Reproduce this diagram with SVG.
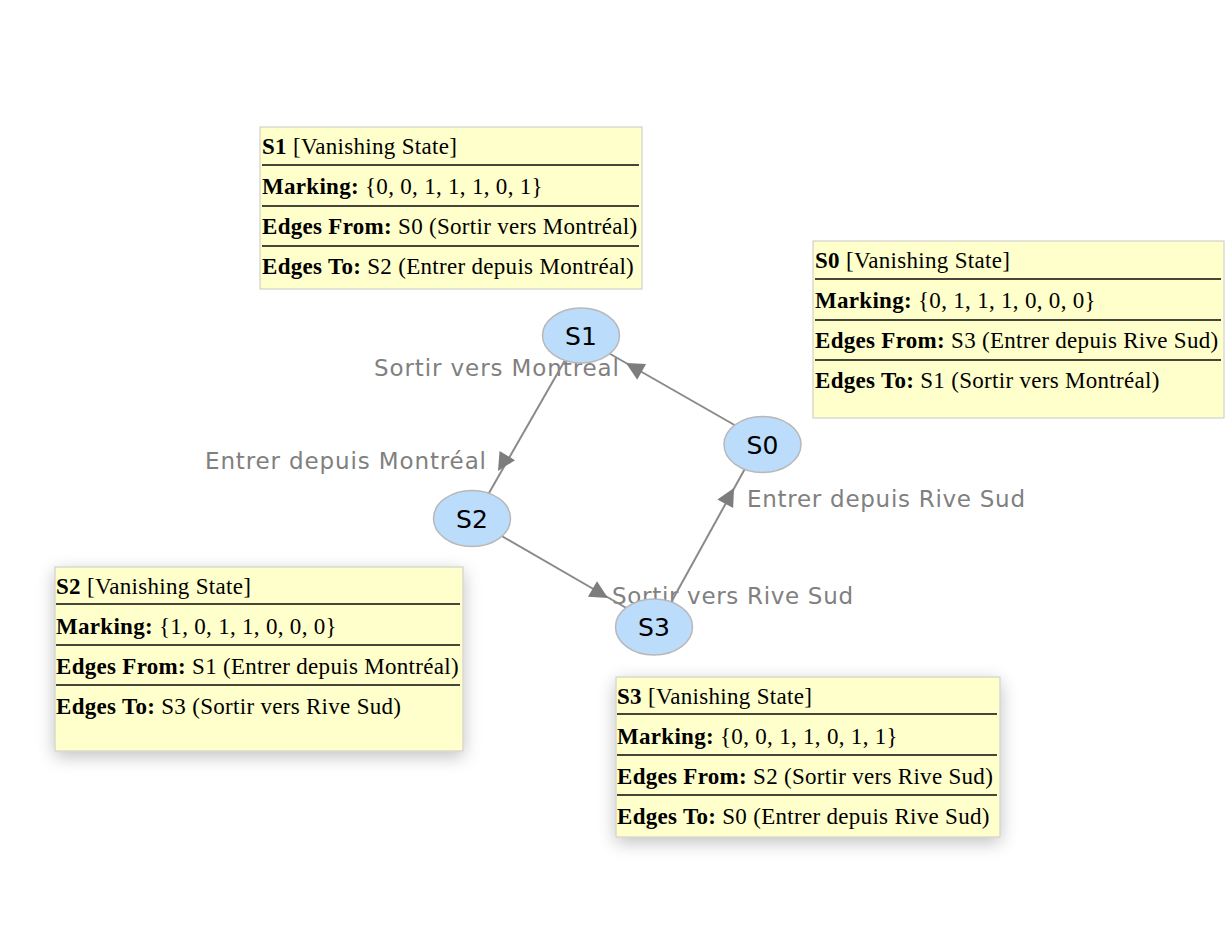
<svg xmlns="http://www.w3.org/2000/svg" xmlns:xlink="http://www.w3.org/1999/xlink" width="1226" height="950" viewBox="0 0 1226 950">
<style>
.edge{stroke:#8a8a8a;stroke-width:2;fill:none}
.ah{fill:#7d7d7d}
.elabel{font-family:"DejaVu Sans","Noto Sans",sans-serif;font-size:23px;fill:#808080}
.node{fill:#bcdcfb;stroke:#b8b8b8;stroke-width:1.5}
.nlabel{font-family:"DejaVu Sans","Noto Sans",sans-serif;font-size:25px;fill:#000;text-anchor:middle}
.tip{fill:#ffffcc;stroke:#c8c8c8;stroke-width:1}
.sep{stroke:#454538;stroke-width:2}
.tt{font-family:"Liberation Serif","Times New Roman",serif;font-size:23px;letter-spacing:0.3px;fill:#000}
.b{font-weight:bold}
</style>
<defs>
<path id="ah" d="M0,0 L-18,-9 L-18,9 Z"/>
<filter id="sh" x="-15%" y="-20%" width="130%" height="145%">
<feGaussianBlur in="SourceAlpha" stdDeviation="9"/>
<feOffset dx="0" dy="5" result="b"/>
<feComponentTransfer><feFuncA type="linear" slope="0.25"/></feComponentTransfer>
<feMerge><feMergeNode/><feMergeNode in="SourceGraphic"/></feMerge>
</filter>
</defs>
<rect width="1226" height="950" fill="#fff"/>

<g id="edge-labels">
<text class="elabel" x="374" y="376" textLength="245" lengthAdjust="spacing">Sortir vers Montréal</text>
<text class="elabel" x="205" y="469" textLength="281" lengthAdjust="spacing">Entrer depuis Montréal</text>
<text class="elabel" x="747" y="507" textLength="278" lengthAdjust="spacing">Entrer depuis Rive Sud</text>
<text class="elabel" x="612" y="604" textLength="241" lengthAdjust="spacing">Sortir vers Rive Sud</text>
</g>

<g id="connectors">
<line class="edge" x1="738" y1="427" x2="605" y2="351"/>
<use href="#ah" class="ah" transform="translate(626,363) rotate(209.6)"/>
<line class="edge" x1="568" y1="355" x2="485" y2="500"/>
<use href="#ah" class="ah" transform="translate(498,471) rotate(121)"/>
<line class="edge" x1="500" y1="535" x2="628" y2="609"/>
<use href="#ah" class="ah" transform="translate(608,598) rotate(30.3)"/>
<line class="edge" x1="668" y1="608" x2="747" y2="465"/>
<use href="#ah" class="ah" transform="translate(734,488) rotate(-61)"/>
</g>

<g id="S1">
<ellipse class="node" cx="581" cy="335.5" rx="38.5" ry="27.5"/>
<text class="nlabel" x="581" y="344.5">S1</text>
</g>
<g id="S0">
<ellipse class="node" cx="762.5" cy="444.5" rx="38.5" ry="28"/>
<text class="nlabel" x="762.5" y="453.5">S0</text>
</g>
<g id="S2">
<ellipse class="node" cx="472" cy="518.5" rx="38.5" ry="28"/>
<text class="nlabel" x="472" y="527.5">S2</text>
</g>
<g id="S3">
<ellipse class="node" cx="654" cy="627" rx="38.5" ry="28"/>
<text class="nlabel" x="654" y="636">S3</text>
</g>

<g id="tip-S1">
<rect class="tip" x="260" y="127" width="382" height="162"/>
<line class="sep" x1="262" y1="165" x2="639" y2="165"/>
<line class="sep" x1="262" y1="206" x2="639" y2="206"/>
<line class="sep" x1="262" y1="246" x2="639" y2="246"/>
<text class="tt" x="262" y="154"><tspan class="b">S1</tspan> [Vanishing State]</text>
<text class="tt" x="262" y="194"><tspan class="b">Marking:</tspan> {0, 0, 1, 1, 1, 0, 1}</text>
<text class="tt" x="262" y="234"><tspan class="b">Edges From:</tspan> S0 (Sortir vers Montréal)</text>
<text class="tt" x="262" y="274"><tspan class="b">Edges To:</tspan> S2 (Entrer depuis Montréal)</text>
</g>

<g id="tip-S0">
<rect class="tip" x="813" y="241" width="411" height="177"/>
<line class="sep" x1="815" y1="279" x2="1221" y2="279"/>
<line class="sep" x1="815" y1="320" x2="1221" y2="320"/>
<line class="sep" x1="815" y1="360" x2="1221" y2="360"/>
<text class="tt" x="815" y="268"><tspan class="b">S0</tspan> [Vanishing State]</text>
<text class="tt" x="815" y="308"><tspan class="b">Marking:</tspan> {0, 1, 1, 1, 0, 0, 0}</text>
<text class="tt" x="815" y="348"><tspan class="b">Edges From:</tspan> S3 (Entrer depuis Rive Sud)</text>
<text class="tt" x="815" y="388"><tspan class="b">Edges To:</tspan> S1 (Sortir vers Montréal)</text>
</g>

<g id="tip-S2">
<rect class="tip" x="55" y="567" width="408" height="184" filter="url(#sh)"/>
<line class="sep" x1="56" y1="604" x2="460" y2="604"/>
<line class="sep" x1="56" y1="645" x2="460" y2="645"/>
<line class="sep" x1="56" y1="685" x2="460" y2="685"/>
<text class="tt" x="56" y="594"><tspan class="b">S2</tspan> [Vanishing State]</text>
<text class="tt" x="56" y="634"><tspan class="b">Marking:</tspan> {1, 0, 1, 1, 0, 0, 0}</text>
<text class="tt" x="56" y="674"><tspan class="b">Edges From:</tspan> S1 (Entrer depuis Montréal)</text>
<text class="tt" x="56" y="714"><tspan class="b">Edges To:</tspan> S3 (Sortir vers Rive Sud)</text>
</g>

<g id="tip-S3">
<rect class="tip" x="616" y="677" width="384" height="160" filter="url(#sh)"/>
<line class="sep" x1="617" y1="714" x2="997" y2="714"/>
<line class="sep" x1="617" y1="755" x2="997" y2="755"/>
<line class="sep" x1="617" y1="795" x2="997" y2="795"/>
<text class="tt" x="617" y="704"><tspan class="b">S3</tspan> [Vanishing State]</text>
<text class="tt" x="617" y="744"><tspan class="b">Marking:</tspan> {0, 0, 1, 1, 0, 1, 1}</text>
<text class="tt" x="617" y="784"><tspan class="b">Edges From:</tspan> S2 (Sortir vers Rive Sud)</text>
<text class="tt" x="617" y="824"><tspan class="b">Edges To:</tspan> S0 (Entrer depuis Rive Sud)</text>
</g>
</svg>
